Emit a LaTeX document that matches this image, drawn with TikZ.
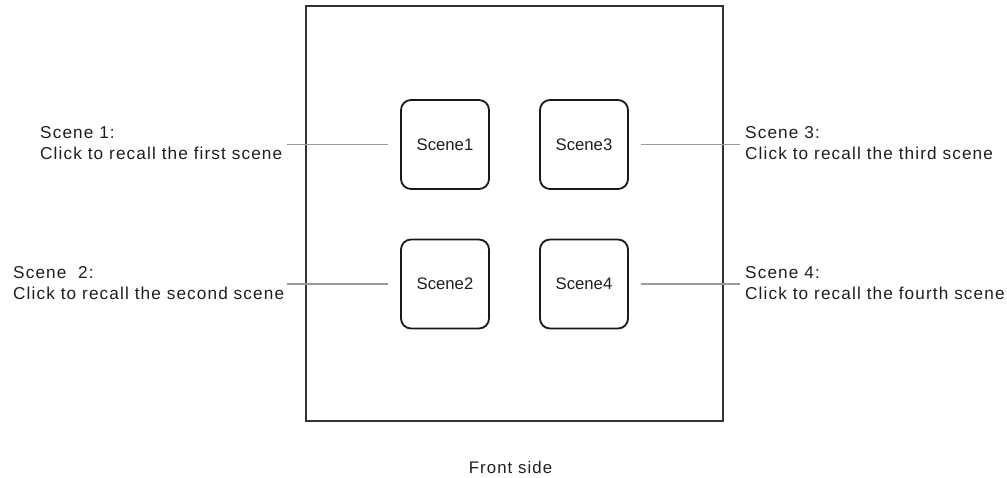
\documentclass[tikz,border=0pt]{standalone}
\usepackage{fontspec}
\setmainfont{Liberation Sans}
\newfontfamily\lblfont[LetterSpace=6.5]{Liberation Sans}
\definecolor{txt}{HTML}{1E1E1E}
\definecolor{frame}{HTML}{333333}
\definecolor{lead}{HTML}{9A9A9A}
\begin{document}
\begin{tikzpicture}[x=1pt,y=-1pt,
  lbl/.style={inner sep=0pt,align=left,text=txt,font=\lblfont\fontsize{17.2}{21}\selectfont},
  btn/.style={draw=black!90,line width=1.8pt,rounded corners=10pt,minimum width=88pt,minimum height=89pt,inner sep=0pt,text=txt,font=\fontsize{16.7}{20}\selectfont},
  leader/.style={draw=lead,line width=1.2pt}]
\useasboundingbox (0,0) rectangle (1007,478);
\node[draw=frame,line width=1.5pt,minimum width=417pt,minimum height=415pt,inner sep=0pt] (panel) at (514.5,213.5) {};
\node[btn] (b1) at (445,144.5) {Scene1};
\node[btn] (b3) at (584,144.5) {Scene3};
\node[btn] (b2) at (445,284) {Scene2};
\node[btn] (b4) at (584,284) {Scene4};
\node[lbl,anchor=north west] (l1) at (40,126) {Scene 1:\\Click to recall the first scene};
\node[lbl,anchor=north west] (l2) at (13,266) {Scene\ \ 2:\\Click to recall the second scene};
\node[lbl,anchor=north west] (l3) at (745,126) {Scene 3:\\Click to recall the third scene};
\node[lbl,anchor=north west] (l4) at (745,266) {Scene 4:\\Click to recall the fourth scene};
\draw[leader] (287,0 |- b1.west) -- ([xshift=-12pt]b1.west);
\draw[leader] (287,0 |- b2.west) -- ([xshift=-12pt]b2.west);
\draw[leader] ([xshift=12pt]b3.east) -- ([xshift=-5pt]l3.west |- b3.east);
\draw[leader] ([xshift=12pt]b4.east) -- ([xshift=-5pt]l4.west |- b4.east);
\node[lbl,anchor=base,font=\lblfont\fontsize{16.8}{20}\selectfont] (front) at (510.5,473) {Front side};
\end{tikzpicture}
\end{document}
